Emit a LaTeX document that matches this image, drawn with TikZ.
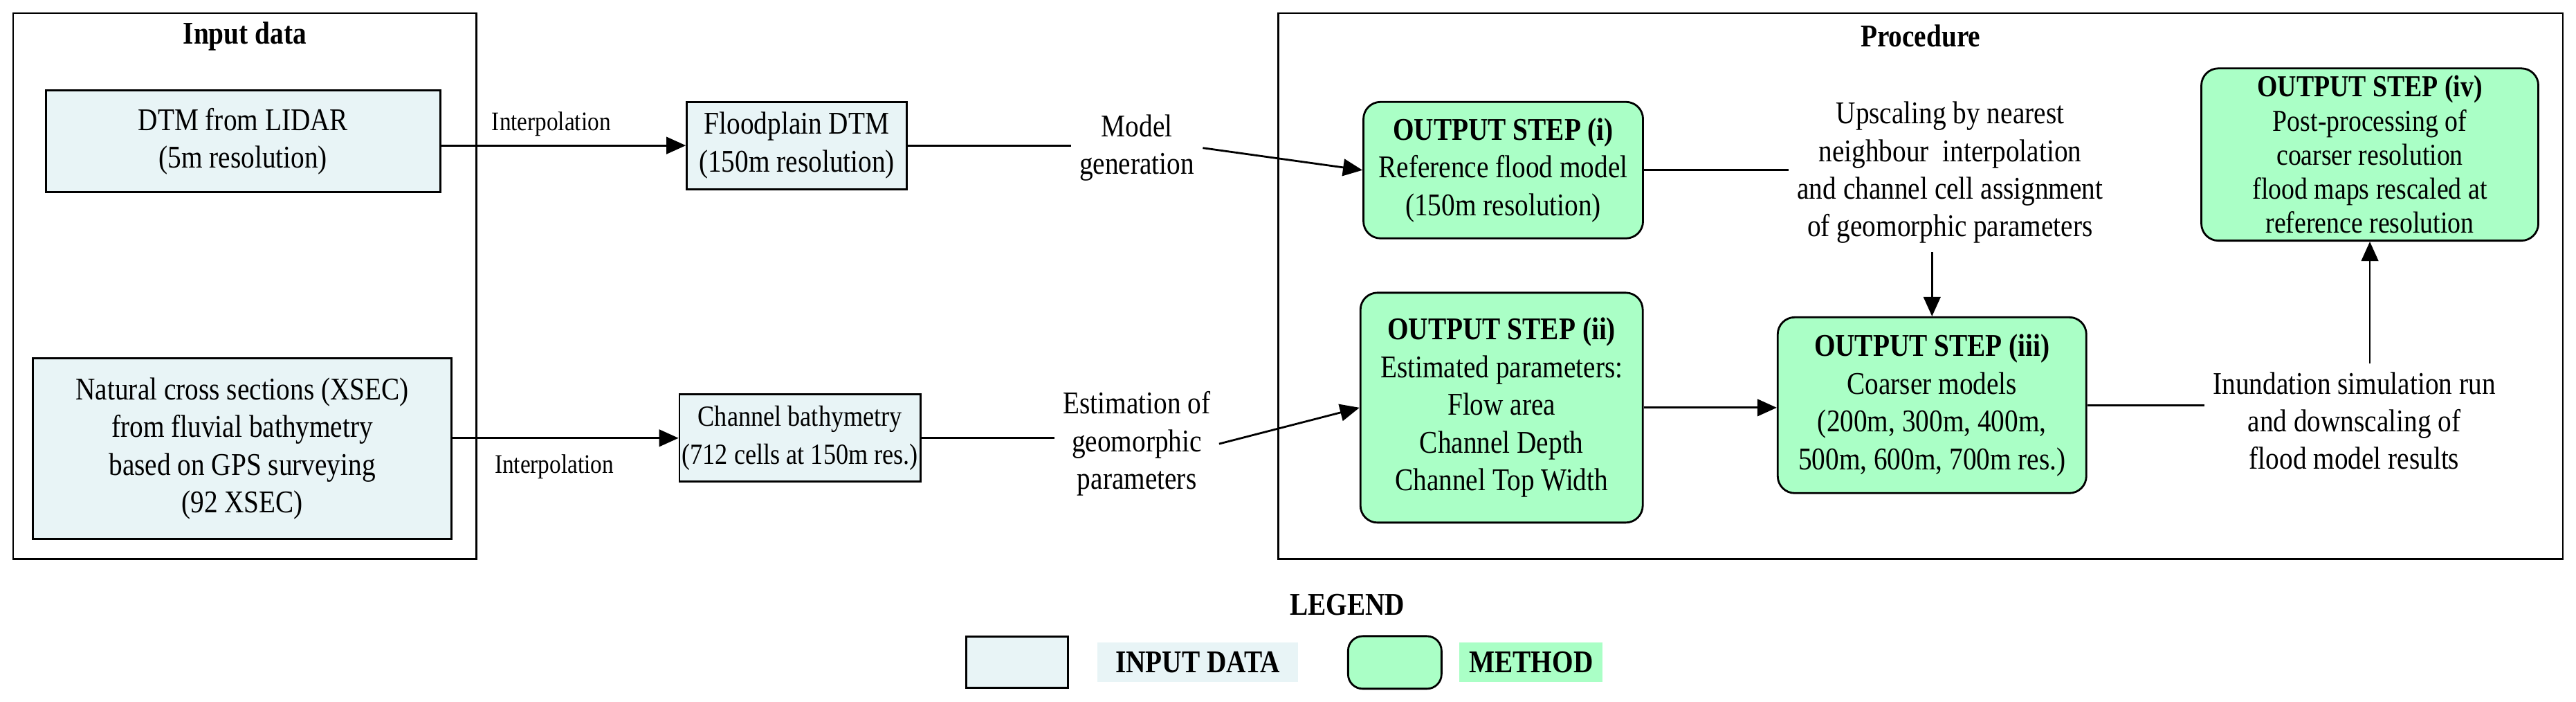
\documentclass[tikz,border=0pt]{standalone}
\usepackage{fontspec}
\setmainfont{Liberation Serif}[FakeStretch=0.86]
\usetikzlibrary{arrows.meta,calc}
\definecolor{inblue}{HTML}{E8F4F6}
\definecolor{mgreen}{HTML}{AAFFC6}
\tikzset{
  base/.style={draw, thick, align=center, font=\fontsize{13}{15.5}\selectfont, inner sep=1pt},
  indata/.style={base, fill=inblue},
  method/.style={base, fill=mgreen, rounded corners=7pt},
  lbl/.style={align=center, font=\fontsize{13}{15.5}\selectfont},
  small/.style={font=\fontsize{11}{12}\selectfont},
  arr/.style={-{Triangle[length=8pt,width=7pt]}, thick},
  ln/.style={thick}
}
\begin{document}
\begin{tikzpicture}[x=0.02374cm, y=-0.02374cm]
\useasboundingbox (0,0) rectangle (1568,427);
% frames
\draw[thick] (8,8) rectangle (290,340);
\node[font=\fontsize{13}{14}\selectfont\bfseries] (tin) at (149,22) {Input data};
\draw[thick] (778,8) rectangle (1560,340);
\node[font=\fontsize{13}{14}\selectfont\bfseries] (tproc) at (1169,22) {Procedure};
% input boxes
\node[indata, minimum width=5.70cm, minimum height=1.47cm] (dtm) at (148,86) {DTM from LIDAR\\(5m resolution)};
\node[indata, minimum width=6.05cm, minimum height=2.61cm] (xsec) at (147.5,273) {Natural cross sections (XSEC)\\from fluvial bathymetry\\based on GPS surveying\\(92 XSEC)};
\node[indata, minimum width=3.18cm, minimum height=1.26cm] (fdtm) at (485,88.5) {Floodplain DTM\\(150m resolution)};
\node[indata, minimum width=3.28cm, minimum height=1.26cm, font=\fontsize{12}{15.5}\selectfont] (chan) at (487,266.5) {Channel bathymetry\\(712 cells at 150m res.)};
% method boxes
\node[method, minimum width=4.04cm, minimum height=1.97cm] (s1) at (915,103.5) {\textbf{OUTPUT STEP (i)}\\Reference flood model\\(150m resolution)};
\node[method, minimum width=4.08cm, minimum height=3.32cm] (s2) at (914,248) {\textbf{OUTPUT STEP (ii)}\\Estimated parameters:\\Flow area\\Channel Depth\\Channel Top Width};
\node[method, minimum width=4.46cm, minimum height=2.54cm] (s3) at (1176,246.5) {\textbf{OUTPUT STEP (iii)}\\Coarser models\\(200m, 300m, 400m,\\500m, 600m, 700m res.)};
\node[method, minimum width=4.87cm, minimum height=2.18cm, inner sep=3pt, font=\fontsize{12.5}{14}\selectfont] (s4) at (1442.5,94) {\textbf{OUTPUT STEP (iv)}\\Post-processing of\\coarser resolution\\flood maps rescaled at\\reference resolution};
% labels
\node[lbl] (mg) at (692,90) {Model\\generation};
\node[lbl] (est) at (692,270) {Estimation of\\geomorphic\\parameters};
\node[lbl] (ups) at (1187,105) {Upscaling by nearest\\neighbour\ \ interpolation\\and channel cell assignment\\of geomorphic parameters};
\node[lbl] (inu) at (1433,256) {Inundation simulation run\\and downscaling of\\flood model results};
% connectors
\draw[arr] (dtm.east |- fdtm.west) -- node[small, above, pos=0.45] {Interpolation} (fdtm.west);
\draw[arr] (xsec.east |- chan.west) -- node[small, below, pos=0.45, yshift=-3pt] {Interpolation} (chan.west);
\draw[ln] (fdtm.east) -- (mg.west |- fdtm.east);
\draw[arr] (mg.east) -- (s1.west);
\draw[ln] (chan.east) -- (est.west |- chan.east);
\draw[arr] (est.east) -- (s2.west);
\draw[ln] (s1.east) -- (ups.west |- s1.east);
\draw[arr] (ups.south -| s3.north) -- (s3.north);
\draw[arr] (s2.east) -- (s2.east -| s3.west);
\draw[ln] (s3.east) -- (inu.west |- s3.east);
\draw[arr] (inu.north -| s4.south) -- (s4.south);
% legend
\node[font=\fontsize{13}{14}\selectfont\bfseries] (leg) at (820,368) {LEGEND};
\node[draw, thick, fill=inblue, minimum width=1.47cm, minimum height=0.74cm] (lb1) at (619,403) {};
\node[fill=inblue, minimum width=2.9cm, minimum height=0.57cm, font=\fontsize{13}{14}\selectfont\bfseries] (lt1) at (729,403) {INPUT DATA};
\node[draw, thick, fill=mgreen, rounded corners=6pt, minimum width=1.35cm, minimum height=0.76cm] (lb2) at (849,403) {};
\node[fill=mgreen, minimum width=2.07cm, minimum height=0.57cm, font=\fontsize{13}{14}\selectfont\bfseries] (lt2) at (932,403) {METHOD};
\end{tikzpicture}
\end{document}
